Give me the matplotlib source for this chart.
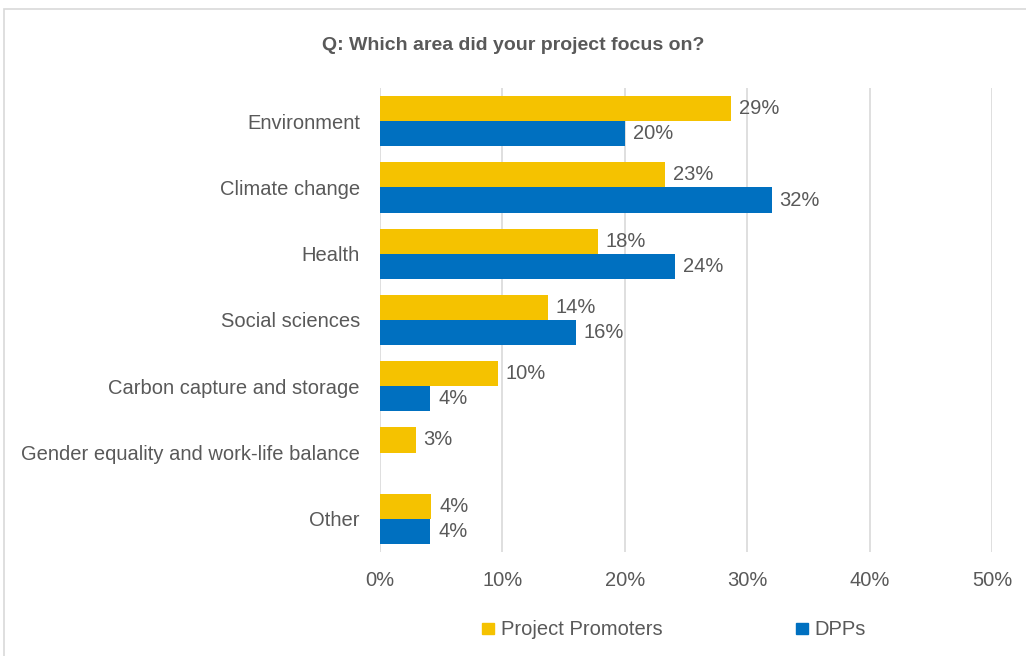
import matplotlib.pyplot as plt
from matplotlib.patches import Rectangle

categories = ["Environment", "Climate change", "Health", "Social sciences",
              "Carbon capture and storage", "Gender equality and work-life balance", "Other"]
promoters = [28.7, 23.3, 17.8, 13.7, 9.6, 2.9, 4.2]
dpps = [20.0, 32.0, 24.1, 16.0, 4.1, None, 4.1]
x_ticks = [0, 10, 20, 30, 40, 50]

YELLOW = "#F5C200"
BLUE = "#0070C0"
TEXT = "#595959"
FS = 14.5

plt.rcParams["font.family"] = ["Liberation Sans", "DejaVu Sans"]

fig = plt.figure(figsize=(10.26, 6.56), dpi=100)
fig.patches.append(Rectangle((0.004, -0.01), 1.0, 0.997, transform=fig.transFigure,
                             fill=False, edgecolor="#D9D9D9", linewidth=1.2))
ax = fig.add_axes([0.3704, 0.1585, 0.5965, 0.7074])

h = 0.38
ys = list(range(len(categories)))
for y, p, d in zip(ys, promoters, dpps):
    ax.barh(y - h / 2, p, height=h, color=YELLOW, zorder=2)
    ax.text(p + 0.65, y - h / 2, f"{p:.0f}%", va="center", ha="left", fontsize=FS, color=TEXT)
    if d is not None:
        ax.barh(y + h / 2, d, height=h, color=BLUE, zorder=2)
        ax.text(d + 0.65, y + h / 2, f"{d:.0f}%", va="center", ha="left", fontsize=FS, color=TEXT)

ax.set_ylim(len(categories) - 0.5, -0.5)
ax.set_xlim(0, 50)
ax.set_yticks(ys)
ax.set_yticklabels(categories, fontsize=FS, color=TEXT)
ax.set_xticks(x_ticks)
ax.set_xticklabels([f"{t}%" for t in x_ticks], fontsize=FS, color=TEXT)
ax.tick_params(length=0, pad=14.5, axis="y")
ax.tick_params(length=0, pad=14, axis="x")
ax.grid(axis="x", color="#D9D9D9", linewidth=1.2, zorder=0)
ax.set_axisbelow(True)
for s in ax.spines.values():
    s.set_visible(False)

fig.text(0.5, 0.931, "Q: Which area did your project focus on?", ha="center", va="center",
         fontsize=14, fontweight="bold", color=TEXT)

# legend entries placed manually along the bottom
for x0, label, color in [(0.470, "Project Promoters", YELLOW), (0.776, "DPPs", BLUE)]:
    fig.patches.append(Rectangle((x0, 0.033), 0.0115, 0.018, transform=fig.transFigure,
                                 color=color))
    fig.text(x0 + 0.018, 0.041, label, ha="left", va="center", fontsize=FS, color=TEXT)

fig.savefig("out.png", dpi=100)
